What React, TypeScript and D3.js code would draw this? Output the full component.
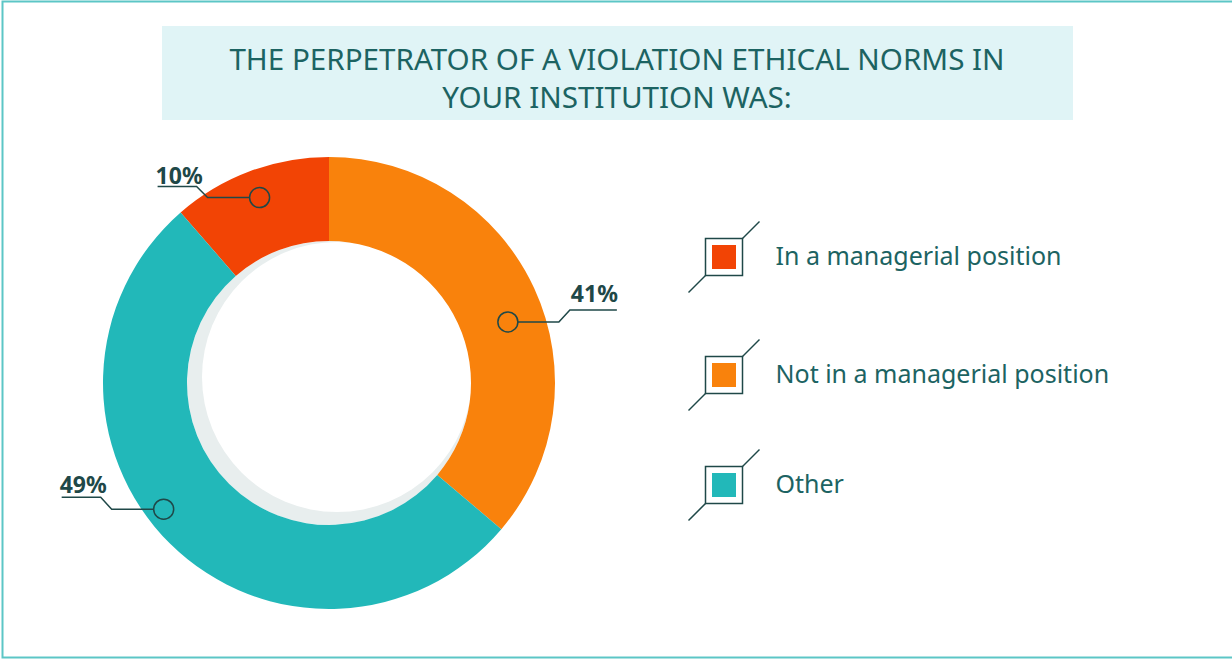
import React, { useEffect, useRef } from 'react';
import * as d3 from 'd3';

// arc shares as drawn in the picture, and the printed labels
const categories = ['In a managerial position', 'Not in a managerial position', 'Other'];
const shares = [11.4, 36.2, 52.4];
const percentLabels = ['10%', '41%', '49%'];
const colors = ['#f24405', '#f9820c', '#22b8b9'];
const titleLines = ['THE PERPETRATOR OF A VIOLATION ETHICAL NORMS IN', 'YOUR INSTITUTION WAS:'];

const App = () => {
  const ref = useRef<SVGSVGElement>(null);

  useEffect(() => {
    const svg = d3.select(ref.current);
    svg.selectAll('*').remove();

    const width = 1232;
    const height = 660;
    const cx = 329;
    const cy = 383;
    const outerR = 226;
    const innerR = 142;
    const textColor = '#1c6362';
    const dark = '#1f4848';

    // frame
    svg.append('rect')
      .attr('x', 2.5).attr('y', 1.5)
      .attr('width', width + 10).attr('height', height - 4)
      .attr('fill', 'white')
      .attr('stroke', '#5cc6c6')
      .attr('stroke-width', 2);

    // title box
    svg.append('rect')
      .attr('x', 162).attr('y', 26)
      .attr('width', 911).attr('height', 94)
      .attr('fill', '#e0f4f6');

    svg.append('g')
      .selectAll('text')
      .data(titleLines)
      .join('text')
        .attr('x', 617)
        .attr('y', (d, i) => 70 + i * 38)
        .attr('text-anchor', 'middle')
        .attr('font-family', '"Noto Sans", sans-serif')
        .attr('font-size', 29.6)
        .attr('fill', textColor)
        .text(d => d);

    // donut
    const total = d3.sum(shares);
    const start = -(shares[0] / total) * 2 * Math.PI;
    const pie = d3.pie<number>()
      .sort(null)
      .value(d => d)
      .startAngle(start)
      .endAngle(start + 2 * Math.PI);
    const arcs = pie(shares);
    const arc = d3.arc<d3.PieArcDatum<number>>()
      .innerRadius(innerR)
      .outerRadius(outerR);

    const g = svg.append('g').attr('transform', `translate(${cx},${cy})`);

    // hole with soft shadow (drawn first, the ring covers any overflow)
    g.append('circle').attr('r', innerR).attr('fill', '#e8eeee');
    g.append('circle').attr('cx', 8).attr('cy', -6).attr('r', 135).attr('fill', 'white');

    g.selectAll('path.slice')
      .data(arcs)
      .join('path')
        .attr('class', 'slice')
        .attr('d', arc)
        .attr('fill', (d, i) => colors[i]);

    // leader labels
    const leader = [
      { offset: 0, radius: 198, side: -1, dy: -11, len: 52, under: 39, ty: -14 },
      { offset: 6, radius: 189, side: 1, dy: -12, len: 51, under: 47, ty: -20 },
      { offset: 8, radius: 208, side: -1, dy: -12, len: 52, under: 39, ty: -16 },
    ];

    arcs.forEach((a, i) => {
      const L = leader[i];
      const ang = (a.startAngle + a.endAngle) / 2 + (L.offset * Math.PI) / 180;
      const px = Math.sin(ang) * L.radius;
      const py = -Math.cos(ang) * L.radius;
      const s = L.side;
      const r = 10;
      const pts: [number, number][] = [
        [px + s * r, py],
        [px + s * L.len, py],
        [px + s * (L.len + 11), py + L.dy],
        [px + s * (L.len + 11 + L.under), py + L.dy],
      ];
      g.append('path')
        .attr('d', d3.line()(pts))
        .attr('fill', 'none')
        .attr('stroke', dark)
        .attr('stroke-width', 1.5);
      g.append('circle')
        .attr('cx', px).attr('cy', py).attr('r', r)
        .attr('fill', 'none')
        .attr('stroke', dark)
        .attr('stroke-width', 1.5);
      g.append('text')
        .attr('x', s < 0 ? px + s * (L.len + 11 + L.under) - 2 : px + s * (L.len + 12))
        .attr('y', py + L.ty)
        .attr('font-family', '"Noto Sans", sans-serif')
        .attr('font-weight', 700)
        .attr('font-size', 23)
        .attr('fill', dark)
        .text(percentLabels[i]);
    });

    // legend
    const legendY = [257, 375, 485];
    const box = 37;
    const inner = 24;
    const lx = 705.5;
    const leg = svg.append('g')
      .selectAll('g')
      .data(categories)
      .join('g')
        .attr('transform', (d, i) => `translate(${lx},${legendY[i]})`);

    leg.append('rect')
      .attr('x', 0).attr('y', -box / 2)
      .attr('width', box).attr('height', box)
      .attr('fill', 'white')
      .attr('stroke', dark)
      .attr('stroke-width', 1.5);
    leg.append('rect')
      .attr('x', (box - inner) / 2).attr('y', -inner / 2)
      .attr('width', inner).attr('height', inner)
      .attr('fill', (d, i) => colors[i]);
    leg.append('line')
      .attr('x1', box).attr('y1', -box / 2)
      .attr('x2', box + 17).attr('y2', -box / 2 - 17)
      .attr('stroke', dark).attr('stroke-width', 1.5);
    leg.append('line')
      .attr('x1', 0).attr('y1', box / 2)
      .attr('x2', -17).attr('y2', box / 2 + 17)
      .attr('stroke', dark).attr('stroke-width', 1.5);
    leg.append('text')
      .attr('x', 70)
      .attr('y', 8)
      .attr('font-family', '"Noto Sans", sans-serif')
      .attr('font-size', 25)
      .attr('fill', textColor)
      .text(d => d);
  }, []);

  return (
    <svg
      ref={ref}
      width="1232"
      height="660"
      style={{ position: 'absolute', left: 0, top: 0 }}
    ></svg>
  );
};

export default App;
